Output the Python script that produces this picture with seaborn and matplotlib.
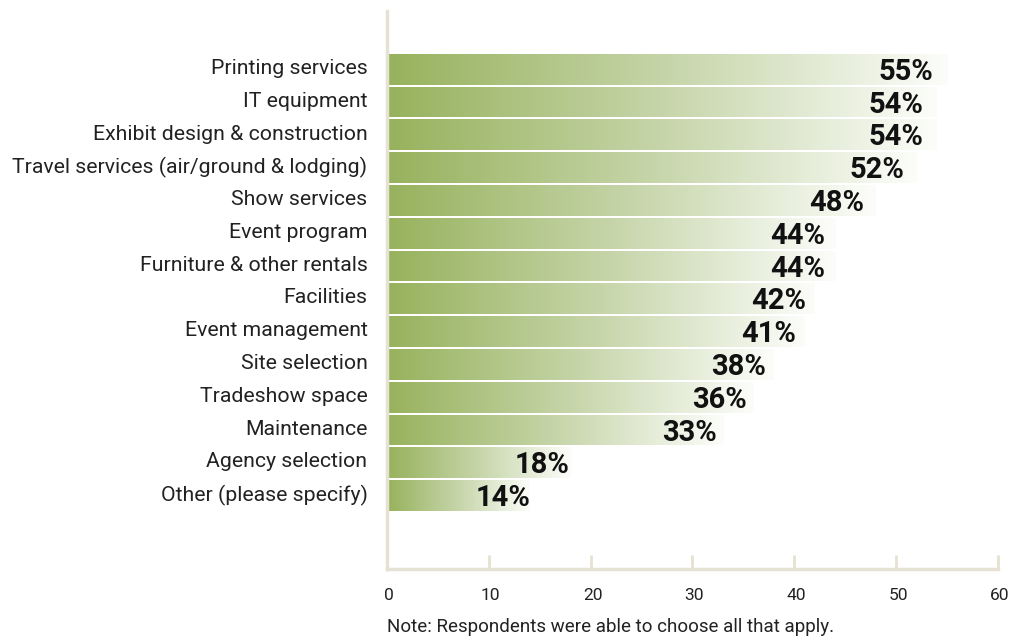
import numpy as np
import pandas as pd
import matplotlib
matplotlib.use("Agg")
import matplotlib.pyplot as plt
import matplotlib.transforms as mtransforms
from matplotlib.colors import LinearSegmentedColormap
import seaborn as sns

categories = [
    "Printing services",
    "IT equipment",
    "Exhibit design & construction",
    "Travel services (air/ground & lodging)",
    "Show services",
    "Event program",
    "Furniture & other rentals",
    "Facilities",
    "Event management",
    "Site selection",
    "Tradeshow space",
    "Maintenance",
    "Agency selection",
    "Other (please specify)",
]
values = [55, 54, 54, 52, 48, 44, 44, 42, 41, 38, 36, 33, 18, 14]
x_ticks = [0, 10, 20, 30, 40, 50, 60]
note = "Note: Respondents were able to choose all that apply."

sns.set_theme(style="white")
plt.rcParams["font.family"] = ["Roboto", "DejaVu Sans"]

df = pd.DataFrame({"category": categories, "value": values})

fig = plt.figure(figsize=(10.10, 6.40), dpi=100)
ax = fig.add_axes([0.383, 0.111, 0.605, 0.872])

sns.barplot(data=df, x="value", y="category", orient="h", ax=ax,
            width=0.94, color="#97b25d", linewidth=0, saturation=1)

# green-to-white fade along each bar
fade = LinearSegmentedColormap.from_list("fade", ["#97b25d", "#c6d5a9", "#fcfdfa"])
grad = np.linspace(0, 1, 256).reshape(1, -1)
for patch in ax.patches:
    x0, y0 = patch.get_x(), patch.get_y()
    w, h = patch.get_width(), patch.get_height()
    im = ax.imshow(grad, cmap=fade, aspect="auto", interpolation="bilinear",
                   extent=(x0, x0 + w, y0 + h, y0), zorder=2)
    im.set_clip_path(patch)
    patch.set_facecolor("none")

ax.set_xlim(0, 60)
ax.set_ylim(len(categories) - 1 + 2.24, -1.78)

# value labels near the end of each bar
for i, v in enumerate(values):
    ax.text(v * 0.965 + 0.6, i + 0.08, f"{v}%", ha="right", va="center",
            fontsize=21, fontweight="bold", color="#111111", zorder=3)

spine_color = "#e6e2d3"
for side in ("top", "right"):
    ax.spines[side].set_visible(False)
for side in ("left", "bottom"):
    ax.spines[side].set_visible(True)
    ax.spines[side].set_color(spine_color)
    ax.spines[side].set_linewidth(2.5)

ax.set_xticks(x_ticks)
ax.set_xticklabels([str(t) for t in x_ticks])
ax.tick_params(axis="x", direction="in", length=10, width=2, color=spine_color,
               pad=14, labelsize=12.5, labelcolor="#222222", bottom=True)
ax.tick_params(axis="y", length=0, pad=14, labelsize=15.3, labelcolor="#222222")
ax.set_xlabel("")
ax.set_ylabel("")
ax.grid(False)

# nudge category names slightly upward and tick numbers slightly right
up = mtransforms.ScaledTranslation(0, 2 / 72, fig.dpi_scale_trans)
for lbl in ax.get_yticklabels():
    lbl.set_transform(lbl.get_transform() + up)
right = mtransforms.ScaledTranslation(1.5 / 72, 0, fig.dpi_scale_trans)
for lbl in ax.get_xticklabels():
    lbl.set_transform(lbl.get_transform() + right)

fig.text(0.383, 0.006, note, ha="left", va="bottom", fontsize=13.5, color="#222222")

fig.savefig("out.png", dpi=100, facecolor="white")
